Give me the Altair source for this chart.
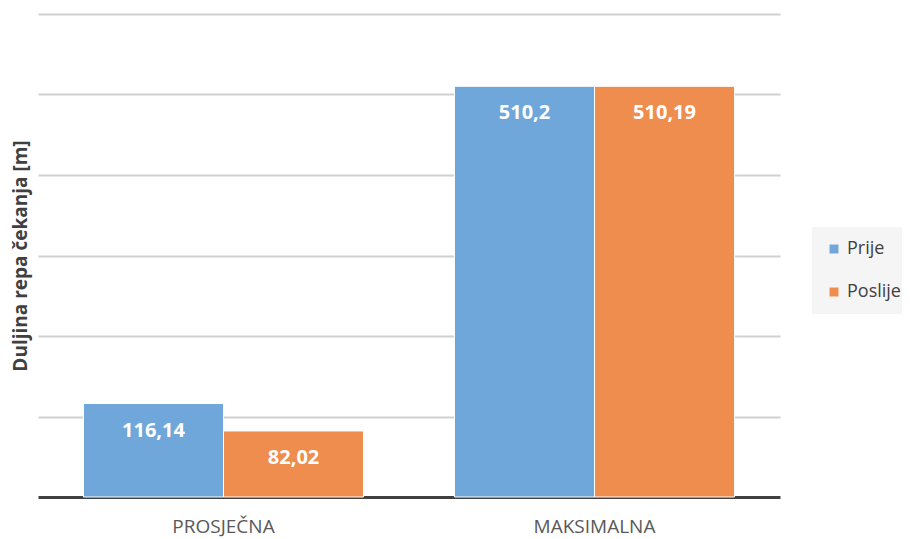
import altair as alt
import pandas as pd

categories = ["PROSJEČNA", "PROSJEČNA", "MAKSIMALNA", "MAKSIMALNA"]
series = ["Prije", "Poslije", "Prije", "Poslije"]
values = [116.14, 82.02, 510.2, 510.19]
labels = ["116,14", "82,02", "510,2", "510,19"]

cat_order = ["PROSJEČNA", "MAKSIMALNA"]
ser_order = ["Prije", "Poslije"]
colors = ["#6fa7da", "#ee8d4e"]

df = pd.DataFrame({"kat": categories, "serija": series, "vrijednost": values, "oznaka": labels})

FONT = "Open Sans"

x = alt.X("kat:N", sort=cat_order, title=None,
          scale=alt.Scale(paddingInner=0.245, paddingOuter=0.1225),
          axis=alt.Axis(labelAngle=0, labelFont=FONT, labelFontSize=19, labelColor="#595959",
                        labelPadding=20, ticks=False, domain=True, domainColor="#404040",
                        domainWidth=3))
y = alt.Y("vrijednost:Q", title="Duljina repa čekanja [m]",
          scale=alt.Scale(domain=[0, 600], nice=False),
          axis=alt.Axis(values=[100, 200, 300, 400, 500, 600], labels=False, ticks=False,
                        domain=False, grid=True, gridColor="#d0d0d0", gridWidth=2,
                        titleFont=FONT, titleFontSize=19, titleFontWeight="bold",
                        titleColor="#404040", titlePadding=8))
xo = alt.XOffset("serija:N", sort=ser_order)

bars = alt.Chart(df).mark_bar(stroke="white", strokeWidth=1).encode(
    x=x, y=y, xOffset=xo,
    color=alt.Color("serija:N", sort=ser_order,
                    scale=alt.Scale(domain=ser_order, range=colors),
                    legend=alt.Legend(title=None, orient="none", legendX=774, legendY=213,
                                      fillColor="#f5f5f5", padding=13, rowPadding=25,
                                      symbolType="square", symbolSize=80, symbolStrokeWidth=0,
                                      labelFont=FONT, labelFontSize=18, labelColor="#404040",
                                      labelOffset=4, symbolOpacity=1))
)

text = alt.Chart(df).mark_text(font=FONT, fontSize=20, fontWeight="bold", color="white",
                                baseline="middle", dy=27).encode(
    x=alt.X("kat:N", sort=cat_order), y=alt.Y("vrijednost:Q"), xOffset=xo, text="oznaka:N"
)

chart = (bars + text).properties(
    width=742, height=483,
    autosize=alt.AutoSizeParams(type="none"),
    padding={"left": 30, "top": 6, "right": 122, "bottom": 40},
).configure_view(stroke=None)

chart.save("out.html", embed_options={"renderer": "svg", "actions": False})
